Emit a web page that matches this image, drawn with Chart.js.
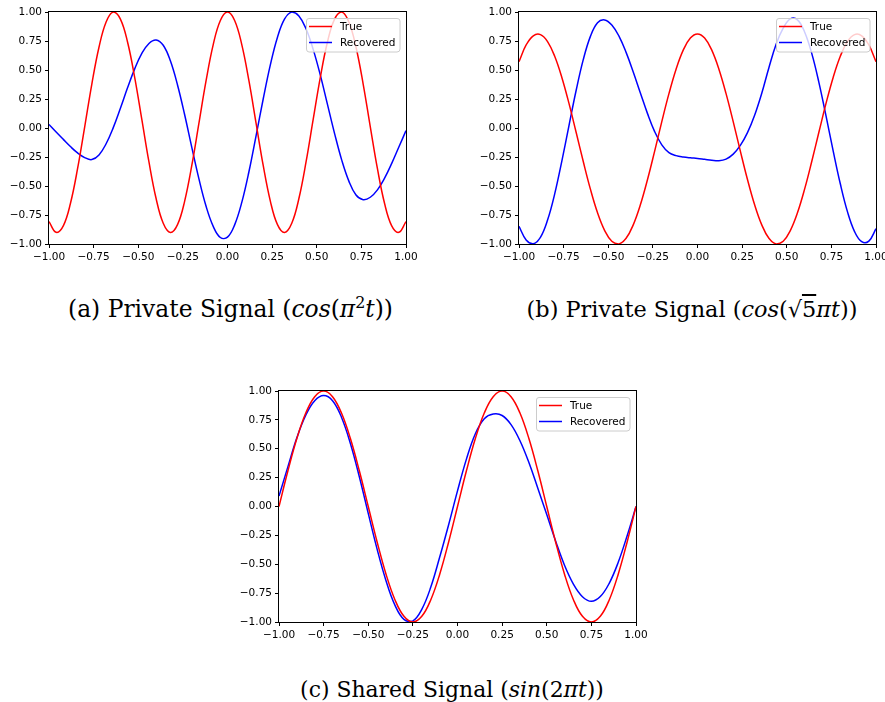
<!DOCTYPE html>
<html><head><meta charset="utf-8">
<script src="https://cdn.jsdelivr.net/npm/chart.js@4.4.1/dist/chart.umd.min.js"></script>
<style>
html,body{margin:0;padding:0;background:#fff;width:885px;height:702px;overflow:hidden;position:relative;}
canvas{position:absolute;}
.cap{position:absolute;font-family:"DejaVu Serif",serif;font-size:20px;white-space:nowrap;color:#000;line-height:24px;}
.cap sup{font-size:0.68em;line-height:0;vertical-align:0.55em;}
.ov{text-decoration:overline;}
</style></head><body>
<canvas id="ca" width="440" height="270" style="left:0px;top:0px"></canvas>
<canvas id="cb" width="440" height="270" style="left:460px;top:0px"></canvas>
<canvas id="cc" width="440" height="270" style="left:230px;top:380px"></canvas>
<div class="cap" id="capA">(a) Private Signal (<i>cos</i>(<i>π</i><sup>2</sup><i>t</i>))</div>
<div class="cap" id="capB">(b) Private Signal (<i>cos</i>(√<span class="ov">5</span><i>πt</i>))</div>
<div class="cap" id="capC">(c) Shared Signal (<i>sin</i>(2<i>πt</i>))</div>
<script>
// ---- data ----
const seriesNames = ["True", "Recovered"];
const tickValues = [-1, -0.75, -0.5, -0.25, 0, 0.25, 0.5, 0.75, 1];

const tA = [-1.00,-0.96,-0.92,-0.88,-0.84,-0.80,-0.76,-0.72,-0.68,-0.64,-0.60,-0.56,-0.52,-0.48,-0.44,-0.40,-0.36,-0.32,-0.28,-0.24,-0.20,-0.16,-0.12,-0.08,-0.04,
  0.00,0.04,0.08,0.12,0.16,0.20,0.24,0.28,0.32,0.36,0.40,0.44,0.48,0.52,0.56,0.60,0.64,0.68,0.72,0.76,0.80,0.84,0.88,0.92,0.96,1.00];
const trueA = [-0.807,-0.899,-0.844,-0.651,-0.351,0.010,0.379,0.696,0.914,0.999,0.939,0.741,0.437,0.074,-0.293,-0.608,-0.821,-0.900,-0.833,-0.630,-0.323,0.042,0.408,0.719,0.927,
  1.000,0.927,0.719,0.408,0.042,-0.323,-0.630,-0.833,-0.900,-0.821,-0.608,-0.293,0.074,0.437,0.741,0.939,0.999,0.914,0.696,0.379,0.010,-0.351,-0.651,-0.844,-0.899,-0.807];
const recA = [0.030,-0.035,-0.098,-0.160,-0.215,-0.255,-0.272,-0.232,-0.136,0.003,0.170,0.346,0.510,0.643,0.729,0.759,0.713,0.579,0.371,0.114,-0.167,-0.439,-0.675,-0.848,-0.944,
  -0.941,-0.835,-0.641,-0.377,-0.067,0.250,0.544,0.783,0.941,0.999,0.966,0.855,0.678,0.456,0.204,-0.048,-0.277,-0.458,-0.578,-0.618,-0.597,-0.533,-0.432,-0.305,-0.164,-0.023];

const tB = tA;
const trueB = [0.572,0.716,0.795,0.805,0.745,0.618,0.436,0.212,-0.037,-0.289,-0.527,-0.731,-0.884,-0.976,-0.999,-0.951,-0.835,-0.662,-0.444,-0.199,0.055,0.296,0.507,0.671,0.775,
  0.810,0.775,0.671,0.507,0.296,0.055,-0.199,-0.444,-0.662,-0.835,-0.951,-0.999,-0.976,-0.884,-0.731,-0.527,-0.289,-0.037,0.212,0.436,0.618,0.745,0.805,0.795,0.716,0.572];
const recB = [-0.848,-0.965,-0.998,-0.943,-0.794,-0.568,-0.285,0.021,0.323,0.589,0.790,0.908,0.932,0.888,0.792,0.652,0.483,0.302,0.124,-0.031,-0.145,-0.212,-0.238,-0.250,-0.257,
  -0.262,-0.270,-0.278,-0.282,-0.268,-0.225,-0.150,-0.040,0.110,0.300,0.520,0.720,0.860,0.940,0.932,0.828,0.643,0.394,0.104,-0.197,-0.481,-0.721,-0.893,-0.980,-0.975,-0.868];

const tC = [-1.00,-0.95,-0.90,-0.85,-0.80,-0.75,-0.70,-0.65,-0.60,-0.55,-0.50,-0.45,-0.40,-0.35,-0.30,-0.25,-0.20,-0.15,-0.10,-0.05,
  0.00,0.05,0.10,0.15,0.20,0.25,0.30,0.35,0.40,0.45,0.50,0.55,0.60,0.65,0.70,0.75,0.80,0.85,0.90,0.95,1.00];
const trueC = [0,0.309,0.588,0.809,0.951,1,0.951,0.809,0.588,0.309,0,-0.309,-0.588,-0.809,-0.951,-1,-0.951,-0.809,-0.588,-0.309,
  0,0.309,0.588,0.809,0.951,1,0.951,0.809,0.588,0.309,0,-0.309,-0.588,-0.809,-0.951,-1,-0.951,-0.809,-0.588,-0.309,0];
const recC = [0.090,0.345,0.595,0.790,0.915,0.960,0.916,0.773,0.546,0.258,-0.059,-0.371,-0.645,-0.856,-0.977,-0.990,-0.890,-0.700,-0.440,-0.160,
  0.135,0.410,0.630,0.760,0.800,0.788,0.709,0.569,0.380,0.158,-0.070,-0.300,-0.511,-0.674,-0.781,-0.821,-0.780,-0.665,-0.485,-0.255,0.000];

// ---- drawing ----
const FONT = "'DejaVu Sans', sans-serif";
const fmt = v => { const r = Math.round(v*100)/100; return (r === 0 ? 0 : r).toFixed(2).replace('-', '\u2212'); };

const boxPlugin = {
  id: 'boxlegend',
  afterDatasetsDraw(chart) {
    const ctx = chart.ctx, ca = chart.chartArea;
    ctx.save();
    ctx.strokeStyle = '#000'; ctx.lineWidth = 1;
    ctx.strokeRect(Math.round(ca.left) - 0.5, Math.round(ca.top) - 0.5, Math.round(ca.right - ca.left) + 1, Math.round(ca.bottom - ca.top) + 1);
    // legend
    const w = 94, h = 34;
    const x = Math.round(ca.right) - 6 - w, y = Math.round(ca.top) + 6;
    const r = 3;
    ctx.beginPath();
    ctx.moveTo(x + r, y + 0.5);
    ctx.lineTo(x + w - r, y + 0.5); ctx.quadraticCurveTo(x + w, y + 0.5, x + w, y + r);
    ctx.lineTo(x + w, y + h - r); ctx.quadraticCurveTo(x + w, y + h, x + w - r, y + h);
    ctx.lineTo(x + r, y + h); ctx.quadraticCurveTo(x + 0.5, y + h, x + 0.5, y + h - r);
    ctx.lineTo(x + 0.5, y + r); ctx.quadraticCurveTo(x + 0.5, y + 0.5, x + r, y + 0.5);
    ctx.closePath();
    ctx.fillStyle = 'rgba(255,255,255,0.8)'; ctx.fill();
    ctx.strokeStyle = '#cccccc'; ctx.lineWidth = 1; ctx.stroke();
    const cols = ['#ff0000', '#0000ff'];
    ctx.font = '10.5px ' + FONT; ctx.textBaseline = 'middle'; ctx.textAlign = 'left';
    seriesNames.forEach((n, i) => {
      const ly = y + 8.5 + i * 16;
      ctx.strokeStyle = cols[i]; ctx.lineWidth = 1.5;
      ctx.beginPath(); ctx.moveTo(x + 3, ly); ctx.lineTo(x + 26, ly); ctx.stroke();
      ctx.fillStyle = '#000'; ctx.fillText(n, x + 34, ly + 0.5);
    });
    ctx.restore();
  }
};

function axis(fitFn) {
  return {
    type: 'linear', min: -1, max: 1,
    afterFit: fitFn,
    afterBuildTicks: s => { s.ticks = tickValues.map(v => ({ value: v })); },
    border: { display: false },
    grid: { display: true, drawOnChartArea: false, drawTicks: true, tickLength: 4, tickColor: '#000', tickWidth: 1 },
    ticks: { color: '#000', font: { family: FONT, size: 10.5 }, padding: 3, autoSkip: false, maxRotation: 0, callback: v => fmt(v) }
  };
}

function makeChart(id, t, tv, rv, pad, yW, xH) {
  const pts = arr => arr.map((v, i) => ({ x: t[i], y: v }));
  new Chart(document.getElementById(id), {
    type: 'line',
    data: {
      datasets: [
        { label: seriesNames[0], data: pts(tv), borderColor: '#ff0000', borderWidth: 1.5, pointRadius: 0, tension: 0.4, fill: false },
        { label: seriesNames[1], data: pts(rv), borderColor: '#0000ff', borderWidth: 1.5, pointRadius: 0, tension: 0.4, fill: false }
      ]
    },
    options: {
      responsive: false, animation: false, devicePixelRatio: 1,
      layout: { padding: pad },
      plugins: { legend: { display: false }, tooltip: { enabled: false } },
      scales: {
        x: axis(s => { s.height = xH; }),
        y: axis(s => { s.width = yW; })
      }
    },
    plugins: [boxPlugin]
  });
}

makeChart('ca', tA, trueA, recA, { left: 0, right: 34, top: 12, bottom: 0 }, 49, 26);
makeChart('cb', tB, trueB, recB, { left: 10, right: 24, top: 12, bottom: 0 }, 49, 26);
makeChart('cc', tC, trueC, recC, { left: 0, right: 34, top: 11, bottom: 0 }, 49, 28);

// captions: centre and size to the reference extents
function placeCap(id, cx, width, top) {
  const el = document.getElementById(id);
  const w0 = el.getBoundingClientRect().width;
  el.style.fontSize = (20 * width / w0).toFixed(2) + 'px';
  const w1 = el.getBoundingClientRect().width;
  el.style.left = (cx - w1 / 2) + 'px';
  el.style.top = top + 'px';
}
placeCap('capA', 230.5, 325, 297);
placeCap('capB', 692, 331, 297);
placeCap('capC', 452, 304, 678);
</script>
</body></html>
